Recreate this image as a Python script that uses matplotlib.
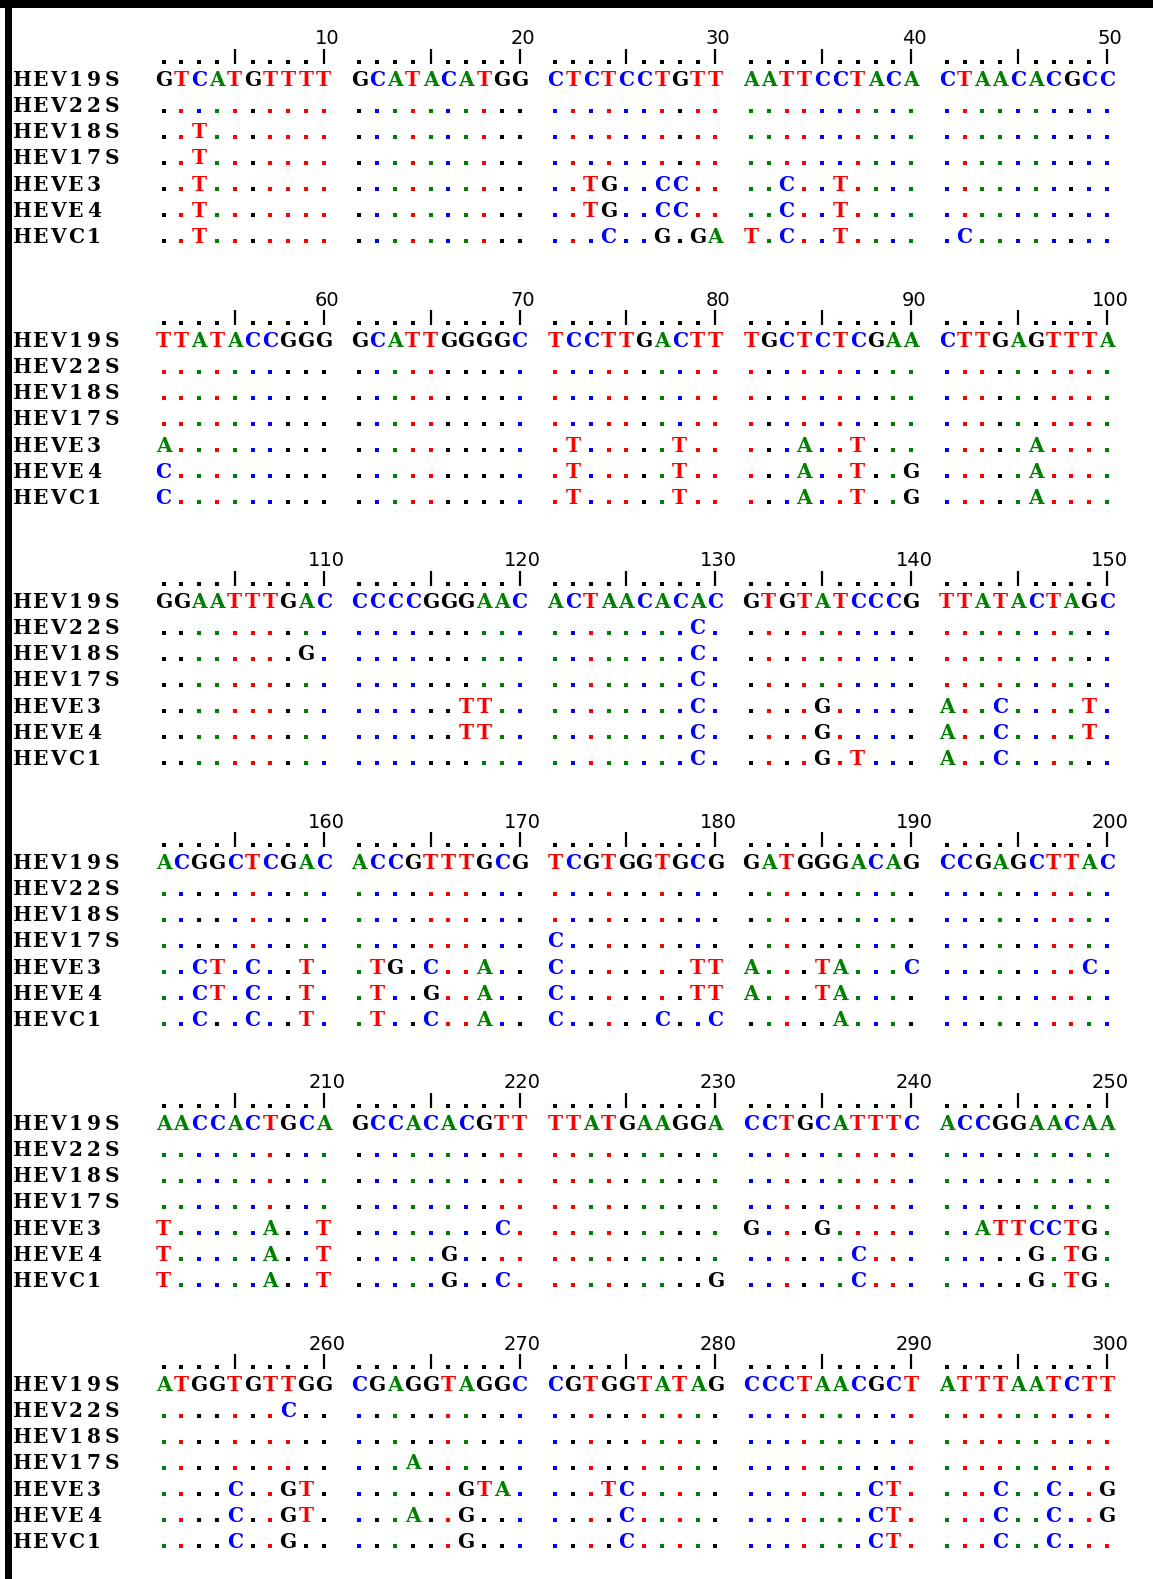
import matplotlib
matplotlib.use("Agg")
import matplotlib.pyplot as plt

# ---------------- data ----------------
names = ["HEV19S", "HEV22S", "HEV18S", "HEV17S", "HEVE3", "HEVE4", "HEVC1"]

ref_blocks = [
    "GTCATGTTTT GCATACATGG CTCTCCTGTT AATTCCTACA CTAACACGCC",
    "TTATACCGGG GCATTGGGGC TCCTTGACTT TGCTCTCGAA CTTGAGTTTA",
    "GGAATTTGAC CCCCGGGAAC ACTAACACAC GTGTATCCCG TTATACTAGC",
    "ACGGCTCGAC ACCGTTTGCG TCGTGGTGCG GATGGGACAG CCGAGCTTAC",
    "AACCACTGCA GCCACACGTT TTATGAAGGA CCTGCATTTC ACCGGAACAA",
    "ATGGTGTTGG CGAGGTAGGC CGTGGTATAG CCCTAACGCT ATTTAATCTT",
]

D = ".......... .......... .......... .......... .........."

hev22s = [
    D, D,
    ".......... .......... ........C. .......... ..........",
    D, D,
    ".......C.. .......... .......... .......... ..........",
]
hev18s = [
    "..T....... .......... .......... .......... ..........",
    D,
    "........G. .......... ........C. .......... ..........",
    D, D, D,
]
hev17s = [
    "..T....... .......... .......... .......... ..........",
    D,
    ".......... .......... ........C. .......... ..........",
    ".......... .......... C......... .......... ..........",
    D,
    ".......... ...A...... .......... .......... ..........",
]
heve3 = [
    "..T....... .......... ..TG..CC.. ..C..T.... ..........",
    "A......... .......... .T.....T.. ...A..T... .....A....",
    ".......... ......TT.. ........C. ....G..... A..C....T.",
    "..CT.C..T. .TG.C..A.. C.......TT A...TA...C ........C.",
    "T.....A..T ........C. .......... G...G..... ..ATTCCTG.",
    "....C..GT. ......GTA. ...TC..... .......CT. ...C..C..G",
]
heve4 = [
    "..T....... .......... ..TG..CC.. ..C..T.... ..........",
    "C......... .......... .T.....T.. ...A..T..G .....A....",
    ".......... ......TT.. ........C. ....G..... A..C....T.",
    "..CT.C..T. .T..G..A.. C.......TT A...TA.... ..........",
    "T.....A..T .....G.... .......... ......C... .....G.TG.",
    "....C..GT. ...A..G... ....C..... .......CT. ...C..C..G",
]
hevc1 = [
    "..T....... .......... ...C..G.GA T.C..T.... .C........",
    "C......... .......... .T.....T.. ...A..T..G .....A....",
    ".......... .......... ........C. ....G.T... A..C......",
    "..C..C..T. .T..C..A.. C.....C..C .....A.... ..........",
    "T.....A..T .....G..C. .........G ......C... .....G.TG.",
    "....C..G.. ......G... ....C..... .......CT. ...C..C...",
]

rows = [ref_blocks, hev22s, hev18s, hev17s, heve3, heve4, hevc1]
ruler_labels = list(range(10, 301, 10))

base_colors = {"A": "#008000", "C": "#0000ff", "G": "#000000", "T": "#ff0000"}

# ---------------- layout ----------------
W, H = 1153, 1579
fig = plt.figure(figsize=(W / 100, H / 100), dpi=100)
ax = fig.add_axes([0, 0, 1, 1])
ax.set_xlim(0, W)
ax.set_ylim(H, 0)
ax.axis("off")

# border
ax.fill_between([0, W], 0, 8, color="black", lw=0)
ax.fill_between([5, 12], 0, H, color="black", lw=0)

pitch = 17.8
x0 = 163.5
block_dy = 261.0
row_dy = 26.15
first_row_y = 79.0

seq_font = dict(family="DejaVu Serif", weight="bold", fontsize=14.5)
name_font = dict(family="DejaVu Serif", weight="bold", fontsize=14.5)


def colx(j):
    return x0 + (j + j // 10) * pitch


for b in range(6):
    yb = first_row_y + b * block_dy
    ref = ref_blocks[b].replace(" ", "")
    # ruler
    ry = yb - 17
    dx, dy = [], []
    for j in range(50):
        x = colx(j)
        if (j + 1) % 5 == 0:
            ax.plot([x, x], [ry - 13, ry + 2], color="black", lw=1.6,
                    solid_capstyle="butt")
        else:
            dx.append(x)
            dy.append(ry)
        if (j + 1) % 10 == 0:
            lab = ruler_labels[b * 5 + j // 10]
            ax.text(x + 3, yb - 40, str(lab), ha="center", va="center",
                    family="DejaVu Sans", fontsize=14, color="black")
    ax.scatter(dx, dy, s=7, marker="s", color="black", lw=0)

    # sequence rows
    for r, seqblocks in enumerate(rows):
        y = yb + r * row_dy
        for k, ch in enumerate(names[r]):
            ax.text(22.5 + k * pitch, y + 7, ch, ha="center", va="baseline",
                    color="black", **name_font)
        s = seqblocks[b].replace(" ", "")
        dots = {}
        for j, ch in enumerate(s):
            x = colx(j)
            if ch == ".":
                c = base_colors[ref[j]]
                dots.setdefault(c, ([], []))
                dots[c][0].append(x)
                dots[c][1].append(y + 5.5)
            else:
                ax.text(x, y + 7, ch, ha="center", va="baseline",
                        color=base_colors[ch], **seq_font)
        for c, (xs, ys) in dots.items():
            ax.scatter(xs, ys, s=8, marker="s", color=c, lw=0)

fig.savefig("out.png", dpi=100)
